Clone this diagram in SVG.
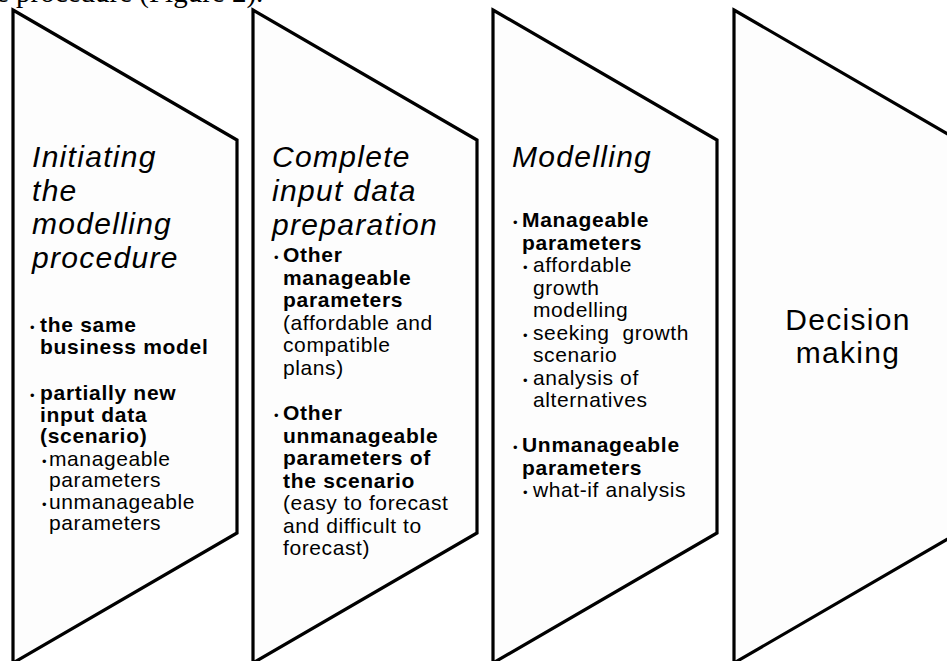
<svg xmlns="http://www.w3.org/2000/svg" width="947" height="661" viewBox="0 0 947 661">
<style>
.shape{fill:#fdfdfd;stroke:#000;stroke-width:3.2;stroke-linejoin:miter}
text{font-family:"Liberation Sans",Arial,sans-serif;fill:#000}
.ttl{font-size:30px;font-style:italic;letter-spacing:1.3px}
.big{font-size:30px;letter-spacing:1.3px}
.b{font-size:21px;font-weight:bold;letter-spacing:0.7px}
.n{font-size:21px;letter-spacing:0.6px}
.dot{font-size:13px}
.top{font-family:"Liberation Serif","Times New Roman",serif;font-size:29px}
</style>
<rect width="947" height="661" fill="#fff"/>
<text class="top" x="-4" y="2">e procedure (Figure 2).</text>
<g id="connectors"></g>
<g id="step1">
<polygon class="shape" points="13,10 237,140 237,533 13,663"/>
<text class="ttl" x="32" y="167">Initiating</text>
<text class="ttl" x="32" y="200.5">the</text>
<text class="ttl" x="32" y="234">modelling</text>
<text class="ttl" x="32" y="267.5">procedure</text>
<text class="dot" x="30" y="332">•</text>
<text class="b" x="40" y="332">the same</text>
<text class="b" x="40" y="353.5">business model</text>
<text class="dot" x="30" y="400">•</text>
<text class="b" x="40" y="400">partially new</text>
<text class="b" x="40" y="421.5">input data</text>
<text class="b" x="40" y="443">(scenario)</text>
<text class="dot" x="42" y="465.5">•</text>
<text class="n" x="49" y="465.5">manageable</text>
<text class="n" x="49" y="487">parameters</text>
<text class="dot" x="42" y="508.5">•</text>
<text class="n" x="49" y="508.5">unmanageable</text>
<text class="n" x="49" y="530">parameters</text>
</g>
<g id="step2">
<polygon class="shape" points="253,10 477,140 477,533 253,663"/>
<text class="ttl" x="272" y="167">Complete</text>
<text class="ttl" x="272" y="201">input data</text>
<text class="ttl" x="272" y="235">preparation</text>
<text class="dot" x="274" y="262">•</text>
<text class="b" x="283" y="262">Other</text>
<text class="b" x="283" y="284.5">manageable</text>
<text class="b" x="283" y="307">parameters</text>
<text class="n" x="283" y="329.5">(affordable and</text>
<text class="n" x="283" y="352">compatible</text>
<text class="n" x="283" y="374.5">plans)</text>
<text class="dot" x="274" y="420">•</text>
<text class="b" x="283" y="420">Other</text>
<text class="b" x="283" y="442.5">unmanageable</text>
<text class="b" x="283" y="465">parameters of</text>
<text class="b" x="283" y="487.5">the scenario</text>
<text class="n" x="283" y="510">(easy to forecast</text>
<text class="n" x="283" y="532.5">and difficult to</text>
<text class="n" x="283" y="555">forecast)</text>
</g>
<g id="step3">
<polygon class="shape" points="493,10 717,140 717,533 493,663"/>
<text class="ttl" x="512" y="167">Modelling</text>
<text class="dot" x="513" y="227">•</text>
<text class="b" x="522" y="227">Manageable</text>
<text class="b" x="522" y="249.5">parameters</text>
<text class="dot" x="523" y="272">•</text>
<text class="n" x="533" y="272">affordable</text>
<text class="n" x="533" y="294.5">growth</text>
<text class="n" x="533" y="317">modelling</text>
<text class="dot" x="523" y="339.5">•</text>
<text class="n" x="533" y="339.5" style="white-space:pre">seeking  growth</text>
<text class="n" x="533" y="362">scenario</text>
<text class="dot" x="523" y="384.5">•</text>
<text class="n" x="533" y="384.5">analysis of</text>
<text class="n" x="533" y="407">alternatives</text>
<text class="dot" x="513" y="452">•</text>
<text class="b" x="522" y="452">Unmanageable</text>
<text class="b" x="522" y="474.5">parameters</text>
<text class="dot" x="523" y="497">•</text>
<text class="n" x="533" y="497">what-if analysis</text>
</g>
<g id="step4">
<polygon class="shape" points="734,10 958,140 958,533 734,663"/>
<text class="big" x="848" y="330" text-anchor="middle">Decision</text>
<text class="big" x="848" y="363" text-anchor="middle">making</text>
</g>
</svg>
